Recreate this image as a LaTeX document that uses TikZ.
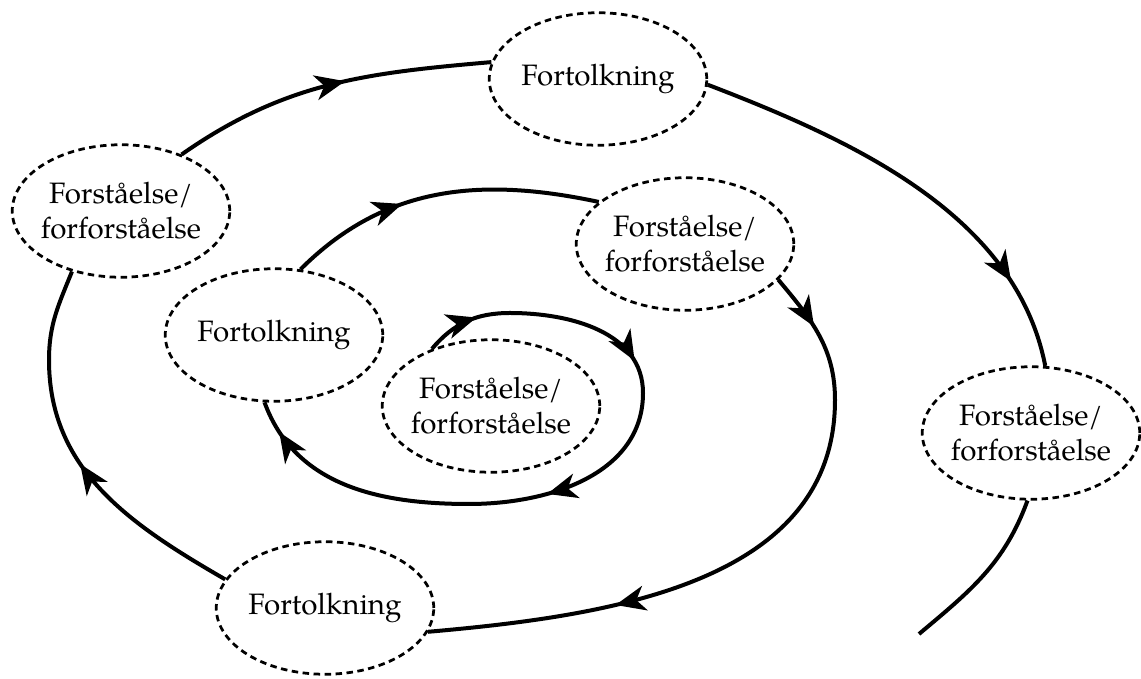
\documentclass[tikz,border=0pt]{standalone}
\usepackage{fontspec}
\setmainfont{TeX Gyre Pagella}
\usetikzlibrary{shapes.geometric, arrows.meta, decorations.markings}

\begin{document}
\begin{tikzpicture}[x=0.4pt, y=0.4pt,
        phase/.style={ellipse, draw, line width=1.1pt, dash pattern=on 2.6pt off 1.8pt,
            minimum width=87pt, minimum height=53pt, inner xsep=-5pt, inner ysep=0pt, align=center,
            font=\fontsize{11.8}{14}\selectfont},
        spiral/.style={line width=1.6pt},
        flow/.style={postaction={decorate, decoration={markings,
            mark=at position #1 with {\arrow{Stealth[length=12pt, width=10pt, inset=3.5pt]}}}}}]
        \useasboundingbox (0,0) rectangle (1141,679);

        \node[phase] (a) at (598,600) {Fortolkning};
        \node[phase] (b) at (121,468) {Forståelse/\\forforståelse};
        \node[phase] (c) at (274,344) {Fortolkning};
        \node[phase] (d) at (685,435) {Forståelse/\\forforståelse};
        \node[phase] (e) at (491,273) {Forståelse/\\forforståelse};
        \node[phase] (f) at (325,71) {Fortolkning};
        \node[phase] (g) at (1031,246) {Forståelse/\\forforståelse};
        \coordinate (tail) at (919,45);

        \draw[spiral, flow=0.075, flow=0.31, flow=0.56, flow=0.955] (e.136) to[out=50,in=180] (510,366)
            to[out=0,in=90] (643,286) to[out=-90,in=0] (469,175) to[out=180,in=-70] (c.-98);
        \draw[spiral, flow=0.38] (c.68) to[out=45,in=168] (d.154);
        \draw[spiral, flow=0.09, flow=0.71] (d.-21) to[out=-50,in=90] (835,279) to[out=-90,in=5] (f.-13);
        \draw[spiral, flow=0.48] (f.164) to[out=150,in=-90] (49,319) to[out=90,in=-112] (b.-129);
        \draw[spiral, flow=0.55] (b.43) to[out=35,in=185] (a.171);
        \draw[spiral, flow=0.8] (a.-3) to[out=-21,in=101, looseness=0.9] (g.78);
        \draw[spiral] (g.-93) to[out=-110,in=40] (tail);
    \end{tikzpicture}
\end{document}
